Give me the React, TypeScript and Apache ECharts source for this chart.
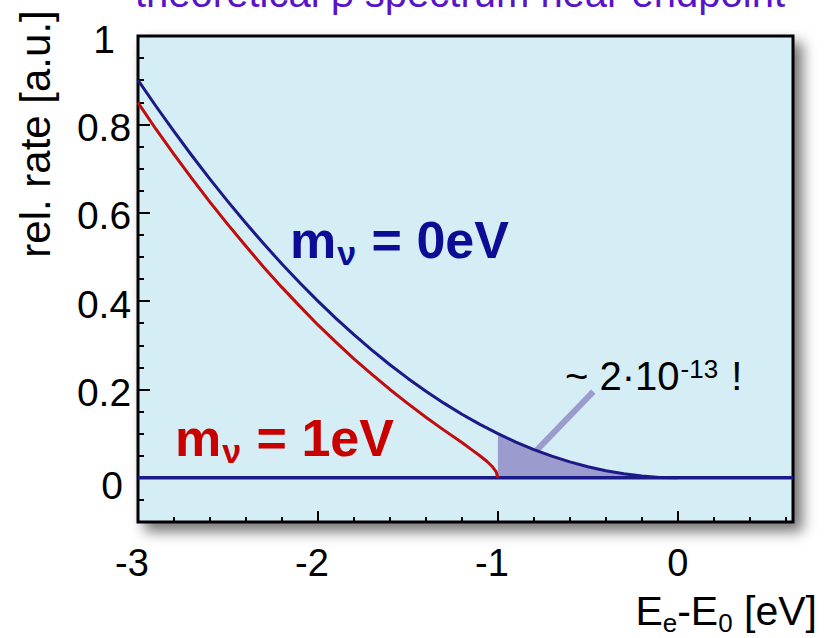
import React, { useEffect, useRef } from "react";
import * as echarts from "echarts";

// Electron energy relative to the endpoint, E_e - E_0 [eV]
const energy = [
  -3.0, -2.9, -2.8, -2.7, -2.6, -2.5, -2.4, -2.3, -2.2, -2.1, -2.0, -1.9, -1.8, -1.7, -1.6, -1.5,
  -1.4, -1.3, -1.2, -1.1, -1.0, -0.9, -0.8, -0.7, -0.6, -0.5, -0.4, -0.3, -0.2, -0.1, 0.0,
];
// relative rate for a massless neutrino
const rateMassless = [
  0.9, 0.841, 0.784, 0.729, 0.676, 0.625, 0.576, 0.529, 0.484, 0.441, 0.4, 0.361, 0.324, 0.289,
  0.256, 0.225, 0.196, 0.169, 0.144, 0.121, 0.1, 0.081, 0.064, 0.049, 0.036, 0.025, 0.016, 0.009,
  0.004, 0.001, 0,
];

// spectrum for m_nu = 1 eV, ending at -1 eV
const energyMassive = [
  -3.0, -2.9, -2.8, -2.7, -2.6, -2.5, -2.4, -2.3, -2.2, -2.1, -2.0, -1.9, -1.8, -1.7, -1.6, -1.5,
  -1.4, -1.3, -1.2, -1.15, -1.1, -1.06, -1.03, -1.01, -1.0,
];
const rateMassive = [
  0.849, 0.789, 0.732, 0.677, 0.624, 0.573, 0.524, 0.476, 0.431, 0.388, 0.346, 0.307, 0.269,
  0.234, 0.2, 0.168, 0.137, 0.108, 0.08, 0.065, 0.05, 0.037, 0.025, 0.014, 0,
];

// zero line across the whole range
const baselineEnergy = [-3.0, 0.64];
const baselineRate = [0, 0];

// shaded tail starts where the massive spectrum ends
const tailStart = -1.0;

// pointer from the annotation down to the tail
const pointerEnergy = [-0.47, -0.785];
const pointerRate = [0.195, 0.062];

// axis ticks
const xMajorTicks = [-3, -2, -1, 0];
const xMinorTicks = [
  -2.8, -2.6, -2.4, -2.2, -1.8, -1.6, -1.4, -1.2, -0.8, -0.6, -0.4, -0.2, 0.2, 0.4, 0.6,
];
const yMajorTicks = [0, 0.2, 0.4, 0.6, 0.8, 1];
const yMinorTicks = [
  -0.05, 0.05, 0.1, 0.15, 0.25, 0.3, 0.35, 0.45, 0.5, 0.55, 0.65, 0.7, 0.75, 0.85, 0.9, 0.95,
];

const FONT = "'Liberation Sans', Arial, Helvetica, sans-serif";
const NAVY = "#1c1a86";
const RED = "#c00d0d";
const LAVENDER = "#9c9bcd";

const zip = (xs: number[], ys: number[]) => xs.map((x, i) => [x, ys[i]]);

const hiddenLine = { show: false, onZero: false };
const tickLine = { color: "#000", width: 2 };

export default function App() {
  const ref = useRef<HTMLDivElement>(null);

  useEffect(() => {
    if (!ref.current) return;
    const chart = echarts.init(ref.current, undefined, { renderer: "svg" });

    const masslessData = zip(energy, rateMassless);
    const tailData = masslessData.filter((p) => p[0] >= tailStart);

    const subscriptLabel = (color: string) => ({
      m: {
        fontFamily: FONT,
        fontSize: 52,
        fontWeight: "bold",
        lineHeight: 52,
        fill: color,
        verticalAlign: "top",
      },
      s: {
        fontFamily: FONT,
        fontSize: 34,
        fontWeight: "bold",
        lineHeight: 34,
        fill: color,
        verticalAlign: "top",
        padding: [22, 1, 0, 1],
      },
    });

    const option: any = {
      animation: false,
      backgroundColor: "#ffffff",
      grid: {
        show: true,
        left: 138,
        top: 36,
        right: 32,
        bottom: 116,
        backgroundColor: "#d5edf4",
        borderColor: "#000000",
        borderWidth: 3,
        shadowColor: "rgba(0,0,0,0.55)",
        shadowBlur: 14,
        shadowOffsetX: 8,
        shadowOffsetY: 8,
      },
      xAxis: [
        {
          type: "value",
          min: -3,
          max: 0.64,
          position: "bottom",
          axisLine: hiddenLine,
          splitLine: { show: false },
          axisTick: {
            show: true,
            inside: true,
            length: 11,
            customValues: xMajorTicks,
            lineStyle: tickLine,
          },
          axisLabel: {
            customValues: xMajorTicks,
            margin: 22,
            color: "#000",
            fontFamily: FONT,
            fontSize: 38,
            lineHeight: 38,
            formatter: (v: number) => (v < 0 ? `{n|${v}}` : `{p|${v}}`),
            rich: {
              n: { fontFamily: FONT, fontSize: 38, lineHeight: 38, color: "#000", padding: [0, 12, 0, 0] },
              p: { fontFamily: FONT, fontSize: 38, lineHeight: 38, color: "#000" },
            },
          },
        },
        {
          type: "value",
          min: -3,
          max: 0.64,
          position: "bottom",
          axisLine: hiddenLine,
          splitLine: { show: false },
          axisLabel: { show: false },
          axisTick: {
            show: true,
            inside: true,
            length: 5,
            customValues: xMinorTicks,
            lineStyle: tickLine,
          },
        },
      ],
      yAxis: [
        {
          type: "value",
          min: -0.1,
          max: 1,
          position: "left",
          axisLine: hiddenLine,
          splitLine: { show: false },
          axisTick: {
            show: true,
            inside: true,
            length: 12,
            customValues: yMajorTicks,
            lineStyle: tickLine,
          },
          axisLabel: {
            customValues: yMajorTicks,
            margin: 34,
            align: "center",
            color: "#000",
            fontFamily: FONT,
            fontSize: 39,
            formatter: (v: number) => (v === 0 ? `{z|0}` : `{v|${v}}`),
            rich: {
              v: { fontFamily: FONT, fontSize: 39, color: "#000", padding: [6, 0, 0, 0] },
              z: { fontFamily: FONT, fontSize: 39, color: "#000", padding: [16, 0, 0, 16] },
            },
          },
        },
        {
          type: "value",
          min: -0.1,
          max: 1,
          position: "left",
          axisLine: hiddenLine,
          splitLine: { show: false },
          axisLabel: { show: false },
          axisTick: {
            show: true,
            inside: true,
            length: 6,
            customValues: yMinorTicks,
            lineStyle: tickLine,
          },
        },
      ],
      series: [
        {
          name: "tail",
          type: "line",
          data: tailData,
          showSymbol: false,
          lineStyle: { width: 0, color: LAVENDER },
          areaStyle: { color: LAVENDER, opacity: 1 },
          z: 2,
        },
        {
          name: "pointer",
          type: "line",
          data: zip(pointerEnergy, pointerRate),
          showSymbol: false,
          lineStyle: { width: 6, color: LAVENDER, cap: "butt" },
          z: 3,
        },
        {
          name: "zero",
          type: "line",
          data: zip(baselineEnergy, baselineRate),
          showSymbol: false,
          lineStyle: { width: 3.5, color: NAVY },
          z: 4,
        },
        {
          name: "m = 1 eV",
          type: "line",
          data: zip(energyMassive, rateMassive),
          showSymbol: false,
          lineStyle: { width: 3, color: RED, join: "round" },
          z: 5,
        },
        {
          name: "m = 0 eV",
          type: "line",
          data: masslessData,
          showSymbol: false,
          lineStyle: { width: 3, color: NAVY, join: "round" },
          z: 6,
        },
      ],
      graphic: [
        {
          type: "text",
          x: 460,
          y: -7,
          style: {
            text: "theoretical β spectrum near endpoint",
            fontFamily: FONT,
            fontSize: 40,
            fill: "#5a14c8",
            align: "center",
            verticalAlign: "middle",
          },
        },
        {
          type: "text",
          x: 35,
          y: 134,
          rotation: Math.PI / 2,
          style: {
            text: "rel. rate [a.u.]",
            fontFamily: FONT,
            fontSize: 42,
            fill: "#000",
            align: "center",
            verticalAlign: "middle",
          },
        },
        {
          type: "text",
          x: 817,
          y: 590,
          style: {
            text: "{m|E}{s|e}{m|-E}{s|0}{m| [eV]}",
            align: "right",
            verticalAlign: "top",
            rich: {
              m: { fontFamily: FONT, fontSize: 41, lineHeight: 41, fill: "#000", verticalAlign: "top" },
              s: {
                fontFamily: FONT,
                fontSize: 26,
                lineHeight: 26,
                fill: "#000",
                verticalAlign: "top",
                padding: [20, 0, 0, 0],
              },
            },
          },
        },
        {
          type: "text",
          x: 290,
          y: 214,
          style: {
            text: "{m|m}{s|ν}{m| = 0eV}",
            align: "left",
            verticalAlign: "top",
            rich: subscriptLabel("#0c0c94"),
          },
        },
        {
          type: "text",
          x: 175,
          y: 412,
          style: {
            text: "{m|m}{s|ν}{m| = 1eV}",
            align: "left",
            verticalAlign: "top",
            rich: subscriptLabel("#c80000"),
          },
        },
        {
          type: "text",
          x: 565,
          y: 356,
          style: {
            text: "{a|~ 2·10}{b|-13}{a| !}",
            align: "left",
            verticalAlign: "top",
            rich: {
              a: { fontFamily: FONT, fontSize: 40, lineHeight: 40, fill: "#000", verticalAlign: "top" },
              b: {
                fontFamily: FONT,
                fontSize: 26,
                lineHeight: 26,
                fill: "#000",
                verticalAlign: "top",
                padding: [0, 2, 0, 1],
              },
            },
          },
        },
      ],
    };

    chart.setOption(option);
    return () => chart.dispose();
  }, []);

  return (
    <div
      ref={ref}
      style={{ position: "fixed", left: 0, top: 0, width: 825, height: 638 }}
    />
  );
}
